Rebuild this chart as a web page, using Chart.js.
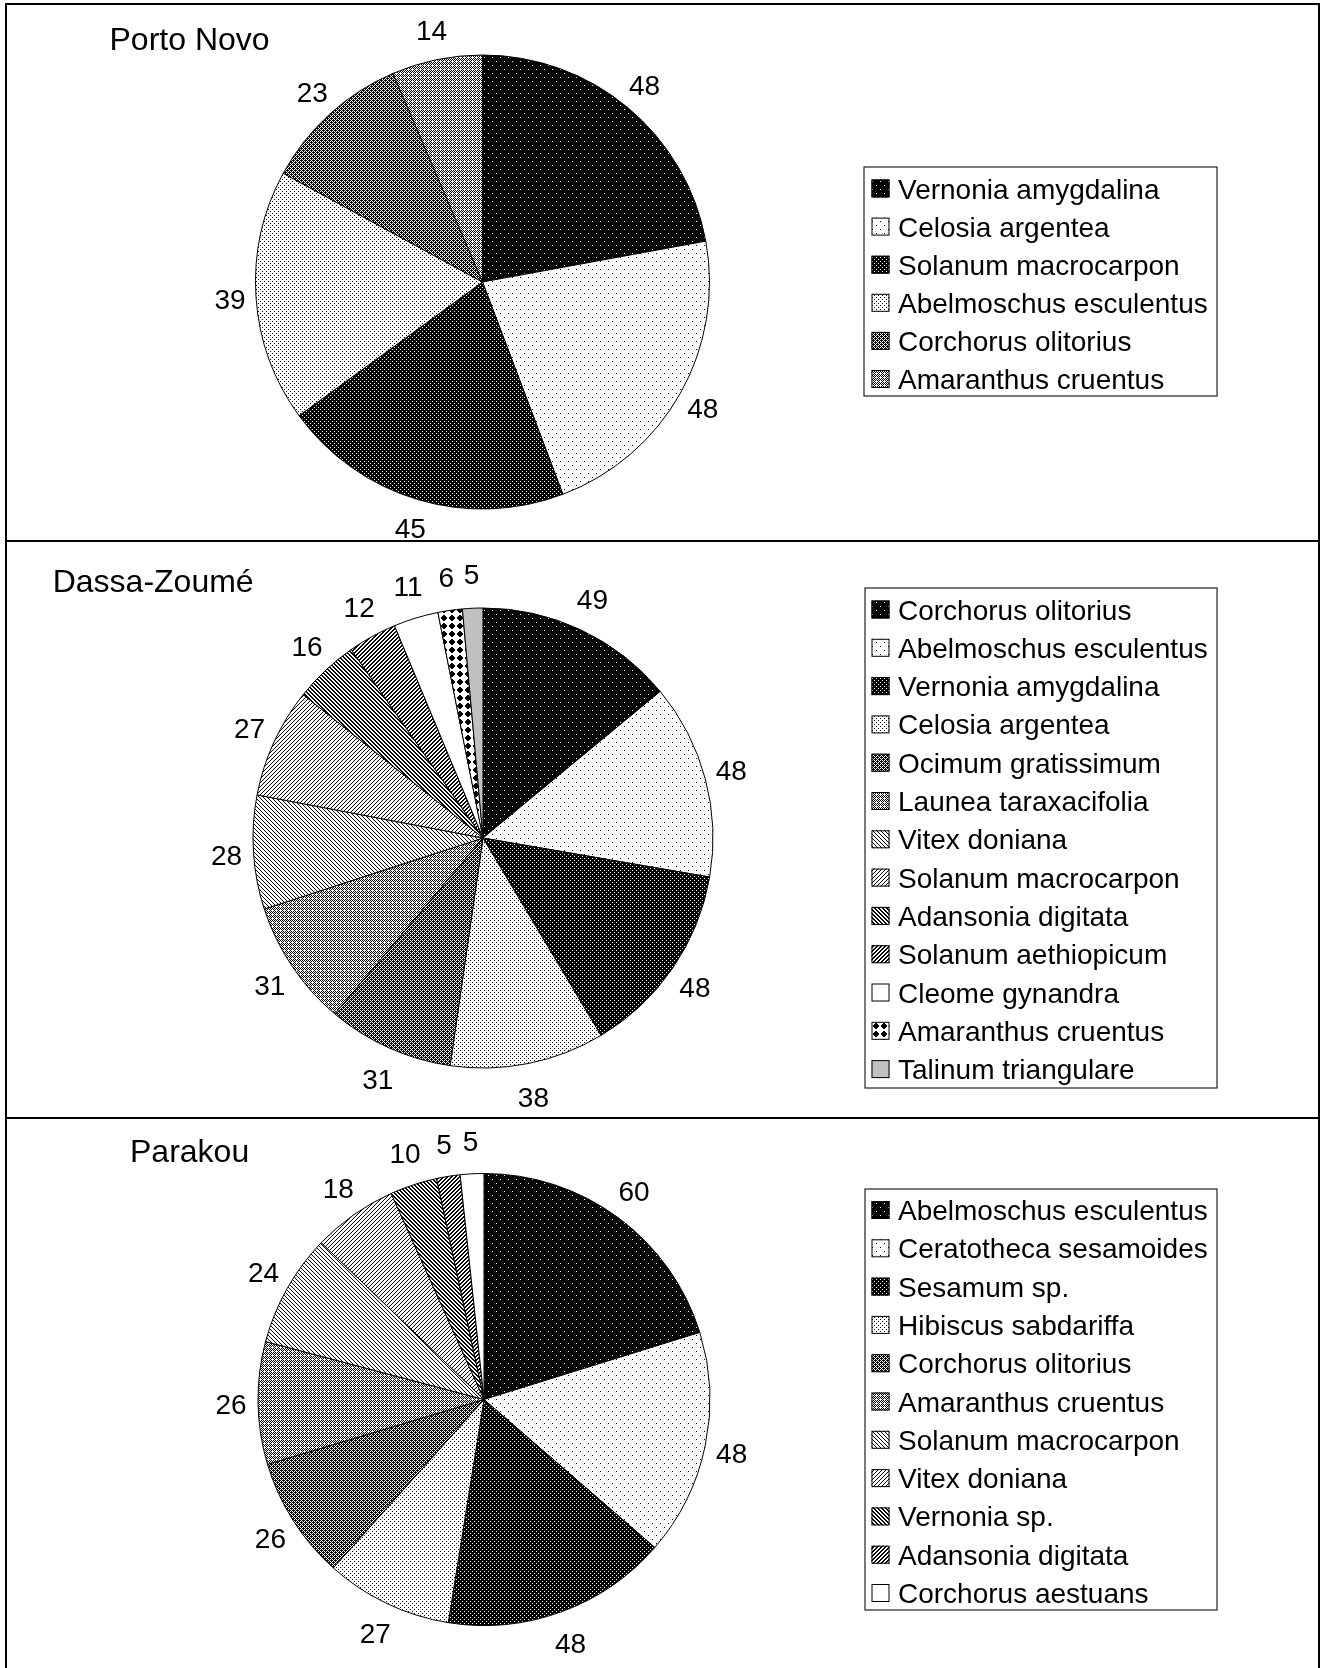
<!DOCTYPE html>
<html>
<head>
<meta charset="utf-8">
<title>Leafy vegetable species by site</title>
<script src="https://cdn.jsdelivr.net/npm/chart.js@4.4.1/dist/chart.umd.min.js"></script>
<style>
  html, body { margin: 0; padding: 0; background: #fff; }
  #page { position: relative; width: 1321px; height: 1668px; overflow: hidden; background: #fff; }
  .panel { position: absolute; left: 0; }
  .rule { position: absolute; background: #000; z-index: 5; }
</style>
</head>
<body>
<div id="page">
  <canvas id="pieA" class="panel"></canvas>
  <canvas id="pieB" class="panel"></canvas>
  <canvas id="pieC" class="panel"></canvas>
  <div class="rule" style="left:5px;top:3px;width:1315px;height:2px"></div>
  <div class="rule" style="left:5px;top:3px;width:2px;height:1665px"></div>
  <div class="rule" style="left:1318px;top:3px;width:2px;height:1665px"></div>
  <div class="rule" style="left:5px;top:540px;width:1315px;height:2px"></div>
  <div class="rule" style="left:5px;top:1117px;width:1315px;height:2px"></div>
</div>
<script>
// ---- data ----
const siteNames = ['Porto Novo', 'Dassa-Zoumé', 'Parakou'];

const portoNovoSpecies = ['Vernonia amygdalina', 'Celosia argentea', 'Solanum macrocarpon',
  'Abelmoschus esculentus', 'Corchorus olitorius', 'Amaranthus cruentus'];
const portoNovoCounts = [48, 48, 45, 39, 23, 14];

const dassaSpecies = ['Corchorus olitorius', 'Abelmoschus esculentus', 'Vernonia amygdalina',
  'Celosia argentea', 'Ocimum gratissimum', 'Launea taraxacifolia', 'Vitex doniana',
  'Solanum macrocarpon', 'Adansonia digitata', 'Solanum aethiopicum', 'Cleome gynandra',
  'Amaranthus cruentus', 'Talinum triangulare'];
const dassaCounts = [49, 48, 48, 38, 31, 31, 28, 27, 16, 12, 11, 6, 5];

const parakouSpecies = ['Abelmoschus esculentus', 'Ceratotheca sesamoides', 'Sesamum sp.',
  'Hibiscus sabdariffa', 'Corchorus olitorius', 'Amaranthus cruentus', 'Solanum macrocarpon',
  'Vitex doniana', 'Vernonia sp.', 'Adansonia digitata', 'Corchorus aestuans'];
const parakouCounts = [60, 48, 48, 27, 26, 26, 24, 18, 10, 5, 5];

// ---- monochrome fill patterns (one per slice position) ----
function bitmapPattern(size, isInk, ink, paper) {
  const c = document.createElement('canvas');
  c.width = c.height = size;
  const g = c.getContext('2d');
  g.fillStyle = paper; g.fillRect(0, 0, size, size);
  g.fillStyle = ink;
  for (let y = 0; y < size; y++)
    for (let x = 0; x < size; x++)
      if (isInk(x, y)) g.fillRect(x, y, 1, 1);
  return g.createPattern(c, 'repeat');
}
const B = '#000', W = '#fff';
const sparse = (x, y) => (x % 8 === 0 && y % 8 === 0) || (x % 8 === 4 && y % 8 === 4);
const dense = (x, y) => (x % 4 === 0 && y % 4 === 0) || (x % 4 === 2 && y % 4 === 2);
const darkMesh = (x, y) => !(x % 2 === 0 && y % 2 === 0) && !(x % 4 === 1 && y % 4 === 1) && !(x % 4 === 3 && y % 4 === 3);
const lightMesh = (x, y) => (x + y) % 2 === 0 && !(x % 4 === 0 && y % 4 === 0);
const fills = [
  bitmapPattern(8, sparse, W, B),                                   // black, fine white dots
  bitmapPattern(8, sparse, B, W),                                   // white, fine black dots
  bitmapPattern(8, dense, W, B),                                    // black, dense white dots
  bitmapPattern(8, dense, B, W),                                    // white, dense black dots
  bitmapPattern(4, darkMesh, B, W),                                 // dark mesh
  bitmapPattern(4, lightMesh, B, W),                                // light mesh
  bitmapPattern(4, (x, y) => ((x - y) % 4 + 4) % 4 === 0, B, W),   // light downward diagonal
  bitmapPattern(4, (x, y) => (x + y) % 4 === 0, B, W),             // light upward diagonal
  bitmapPattern(4, (x, y) => ((x - y) % 4 + 4) % 4 < 2, B, W),     // dark downward diagonal
  bitmapPattern(4, (x, y) => (x + y) % 4 < 2, B, W),               // dark upward diagonal
  '#ffffff',                                                       // plain white
  bitmapPattern(8, (x, y) => Math.abs(x - 3.5) + Math.abs(y - 3.5) < 4, B, W), // diamonds
  '#c0c0c0'                                                        // grey
];

const FONT = '"Liberation Sans", Arial, Helvetica, sans-serif';

// ---- plugins: site title, value labels, boxed legend ----
const siteTitle = {
  id: 'siteTitle',
  afterDraw(chart, args, o) {
    const ctx = chart.ctx;
    ctx.save();
    ctx.font = `${o.size}px ${FONT}`;
    ctx.fillStyle = '#000';
    ctx.textAlign = 'left';
    ctx.textBaseline = 'alphabetic';
    ctx.fillText(o.text, o.x, o.baseline);
    ctx.restore();
  }
};

const sliceValues = {
  id: 'sliceValues',
  afterDatasetsDraw(chart, args, o) {
    const ctx = chart.ctx;
    const values = chart.data.datasets[0].data;
    const meta = chart.getDatasetMeta(0);
    ctx.save();
    ctx.font = `${o.size}px ${FONT}`;
    ctx.fillStyle = '#000';
    ctx.textAlign = 'center';
    ctx.textBaseline = 'alphabetic';
    const cap = 0.716 * o.size;
    meta.data.forEach((arc, i) => {
      const p = arc.getProps(['x', 'y', 'startAngle', 'endAngle', 'outerRadius'], true);
      const mid = (p.startAngle + p.endAngle) / 2;
      const lx = p.x + Math.cos(mid) * (p.outerRadius + o.gapX);
      const ly = p.y + Math.sin(mid) * (p.outerRadius + o.gapY);
      ctx.fillText(String(values[i]), lx, ly + cap / 2);
    });
    ctx.restore();
  }
};

const boxedLegend = {
  id: 'boxedLegend',
  afterDraw(chart, args, o) {
    const ctx = chart.ctx;
    const ds = chart.data.datasets[0];
    ctx.save();
    ctx.strokeStyle = '#222';
    ctx.lineWidth = 1.2;
    ctx.strokeRect(o.left, o.top, o.right - o.left, o.bottom - o.top);
    ctx.font = `${o.size}px ${FONT}`;
    ctx.textAlign = 'left';
    ctx.textBaseline = 'alphabetic';
    const cap = 0.716 * o.size;
    chart.data.labels.forEach((name, i) => {
      const cy = o.firstRow + i * o.pitch;
      const s = o.swatch;
      ctx.fillStyle = ds.backgroundColor[i];
      ctx.fillRect(o.swatchX, cy - s / 2, s, s);
      ctx.strokeStyle = '#000';
      ctx.lineWidth = 1;
      ctx.strokeRect(o.swatchX + 0.5, cy - s / 2 + 0.5, s - 1, s - 1);
      ctx.fillStyle = '#000';
      ctx.fillText(name, o.textX, cy + cap / 2);
    });
    ctx.restore();
  }
};

// ---- panel geometry (page pixels, y relative to each panel's top) ----
const panels = [
  { id: 'pieA', title: siteNames[0], labels: portoNovoSpecies, values: portoNovoCounts,
    top: 5, height: 535, cx: 482.5, cy: 277, r: 227,
    titleX: 109.5, titleBase: 44.5, titleSize: 32, valueSize: 28, gapX: 26, gapY: 30,
    legend: { left: 864, right: 1217, top: 162, bottom: 391, firstRow: 183.5, pitch: 38.1, size: 28, swatchX: 871.5, textX: 898 } },
  { id: 'pieB', title: siteNames[1], labels: dassaSpecies, values: dassaCounts,
    top: 542, height: 575, cx: 483, cy: 296, r: 230,
    titleX: 52.7, titleBase: 49.7, titleSize: 32, valueSize: 28, gapX: 27, gapY: 34,
    legend: { left: 865, right: 1217, top: 46, bottom: 546, firstRow: 67.5, pitch: 38.3, size: 28, swatchX: 871.5, textX: 898 } },
  { id: 'pieC', title: siteNames[2], labels: parakouSpecies, values: parakouCounts,
    top: 1119, height: 549, cx: 484, cy: 280.5, r: 226,
    titleX: 130, titleBase: 43, titleSize: 32, valueSize: 28, gapX: 27, gapY: 33,
    legend: { left: 865, right: 1217, top: 70, bottom: 491, firstRow: 91, pitch: 38.3, size: 28, swatchX: 871.5, textX: 898 } }
];

panels.forEach(p => {
  const canvas = document.getElementById(p.id);
  const w = 1321;
  canvas.width = w;
  canvas.height = p.height;
  canvas.style.width = w + 'px';
  canvas.style.height = p.height + 'px';
  canvas.style.top = p.top + 'px';
  const L = p.legend;
  new Chart(canvas, {
    type: 'pie',
    data: {
      labels: p.labels,
      datasets: [{
        data: p.values,
        backgroundColor: fills.slice(0, p.values.length),
        borderColor: '#000',
        borderWidth: 1
      }]
    },
    options: {
      responsive: false,
      animation: false,
      devicePixelRatio: 1,
      events: [],
      radius: p.r,
      layout: { padding: { left: p.cx - p.r, right: w - p.cx - p.r, top: p.cy - p.r, bottom: p.height - p.cy - p.r } },
      plugins: {
        legend: { display: false },
        tooltip: { enabled: false },
        siteTitle: { text: p.title, x: p.titleX, baseline: p.titleBase, size: p.titleSize },
        sliceValues: { size: p.valueSize, gapX: p.gapX, gapY: p.gapY },
        boxedLegend: {
          left: L.left, right: L.right, top: L.top, bottom: L.bottom,
          firstRow: L.firstRow, pitch: L.pitch, size: L.size,
          swatchX: L.swatchX, textX: L.textX, swatch: 18
        }
      }
    },
    plugins: [siteTitle, sliceValues, boxedLegend]
  });
});
</script>
</body>
</html>
